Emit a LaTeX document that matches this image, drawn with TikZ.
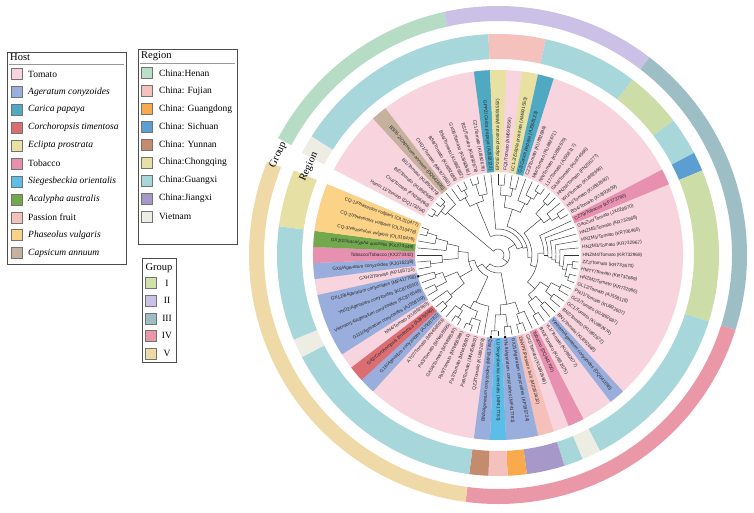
\documentclass[tikz,border=0pt]{standalone}
\usepackage{fontspec}
\setmainfont{Liberation Serif}
\setsansfont{Liberation Sans}

% host colours
\definecolor{tomato}{HTML}{F7D4DE}
\definecolor{ageratum}{HTML}{9AAEDD}
\definecolor{carica}{HTML}{4FA9C3}
\definecolor{corchoropsis}{HTML}{DB6E73}
\definecolor{eclipta}{HTML}{E8E1A2}
\definecolor{tobacco}{HTML}{E890B0}
\definecolor{siegesbeckia}{HTML}{5CBEE8}
\definecolor{acalypha}{HTML}{72A94F}
\definecolor{passion}{HTML}{F5C0BA}
\definecolor{phaseolus}{HTML}{FCD386}
\definecolor{capsicum}{HTML}{C6B09E}
% region colours
\definecolor{henan}{HTML}{BADFC7}
\definecolor{fujian}{HTML}{F5C1BC}
\definecolor{guangdong}{HTML}{F8AA4D}
\definecolor{sichuan}{HTML}{5B9ED2}
\definecolor{yunnan}{HTML}{C58B6E}
\definecolor{chongqing}{HTML}{E7E0A5}
\definecolor{guangxi}{HTML}{A8D7DB}
\definecolor{jiangxi}{HTML}{A699CA}
\definecolor{vietnam}{HTML}{EDEDE3}
\definecolor{regiongreen}{HTML}{CDDDA7}
% group colours
\definecolor{grpone}{HTML}{D0E1AA}
\definecolor{grptwo}{HTML}{CBC1E7}
\definecolor{grpthree}{HTML}{9DBEC4}
\definecolor{grpfour}{HTML}{EA98A8}
\definecolor{grpfive}{HTML}{EFD9A7}
\definecolor{grpmint}{HTML}{B7DCC5}

% tree pieces: leaves i..j, radii in pt
\newcommand{\tstem}[4]{\draw[branch] ({leafang(#1,#2)}:#3) -- ({leafang(#1,#2)}:#4);}
\newcommand{\tarc}[5]{\draw[branch] ({leafang(#2,#3)}:#1) arc[start angle={leafang(#2,#3)}, end angle={leafang(#4,#5)}, radius=#1];}
\newcommand{\tcherry}[2]{\tarc{#2}{#1}{#1}{#1+1}{#1+1}\tstem{#1}{#1}{#2}{81}\tstem{#1+1}{#1+1}{#2}{81}}
\newcommand{\sectorfill}[5]{\fill[#5] ({#1}:#3) arc[start angle={#1}, end angle={#2}, radius=#3] -- ({#2}:#4) arc[start angle={#2}, end angle={#1}, radius=#4] -- cycle;}

\begin{document}
\begin{tikzpicture}[x=1pt,y=1pt,
    declare function={leafang(\a,\b)=155-2.5*(\a+\b);},
    branch/.style={draw=black!80, line width=0.45pt},
    leaflab/.style={font=\sffamily\fontsize{4.7}{5}\selectfont, inner sep=0pt, text=black!85},
    tipmark/.style={fill=black, inner sep=0pt, minimum size=2pt},
    swatch/.style={draw=black!55, line width=0.4pt, minimum size=11pt, inner sep=0pt},
    legtext/.style={font=\fontsize{9.5}{11}\selectfont, inner sep=0pt, anchor=west},
    legtitle/.style={font=\fontsize{10.5}{12}\selectfont, inner sep=0pt},
    legframe/.style={draw=black!70, line width=0.7pt},
    ringlab/.style={font=\fontsize{10.5}{12}\selectfont, inner sep=0pt}]

\useasboundingbox (0,0) rectangle (754,-513);
\fill[white] (0,0) rectangle (754,-513);

% ---- legends
\draw[legframe] (7,-52) rectangle (126,-264);
\node[legtitle, anchor=west] (hosttitle) at (10,-57.5) {Host};
\draw[black!40] (9,-64) -- (124,-64);
\foreach \c/\t [count=\i from 0] in {tomato/Tomato, ageratum/\textit{Ageratum conyzoides},
    carica/\textit{Carica papaya}, corchoropsis/\textit{Corchoropsis timentosa},
    eclipta/\textit{Eclipta prostrata}, tobacco/Tobacco, siegesbeckia/\textit{Siegesbeckia orientalis},
    acalypha/\textit{Acalypha australis}, passion/Passion fruit, phaseolus/\textit{Phaseolus vulgaris},
    capsicum/\textit{Capsicum annuum}}{
  \node[swatch, fill=\c] (hs\i) at (16.5,{-74-17.9*\i}) {};
  \node[legtext] (ht\i) at (28,{-74-17.9*\i}) {\t};
}

\draw[legframe] (138,-49) rectangle (237,-244);
\node[legtitle, anchor=west] (regtitle) at (141,-56) {Region};
\draw[black!40] (140,-63) -- (235,-63);
\foreach \c/\t [count=\i from 0] in {henan/China:Henan, fujian/China: Fujian, guangdong/China: Guangdong,
    sichuan/China: Sichuan, yunnan/China: Yunnan, chongqing/China:Chongqing,
    guangxi/China:Guangxi, jiangxi/China:Jiangxi, vietnam/Vietnam}{
  \node[swatch, fill=\c] (rs\i) at (147,{-73-17.9*\i}) {};
  \node[legtext] (rt\i) at (159,{-73-17.9*\i}) {\t};
}

\draw[legframe] (142,-258) rectangle (176,-362);
\node[legtitle] (grptitle) at (159,-268) {Group};
\foreach \c/\t [count=\i from 0] in {grpone/I, grptwo/II, grpthree/III, grpfour/IV, grpfive/V}{
  \node[swatch, fill=\c] (gs\i) at (150.5,{-283-17.6*\i}) {};
  \node[legtext, anchor=center] (gt\i) at (167,{-283-17.6*\i}) {\t};
}

\begin{scope}[shift={(498,-255)}]
% ---- group ring
\sectorfill{152}{102.5}{234}{249}{grpmint}
\sectorfill{102.5}{52.5}{234}{249}{grptwo}
\sectorfill{52.5}{-17.5}{234}{249}{grpthree}
\sectorfill{-17.5}{-97.5}{234}{249}{grpfour}
\sectorfill{-97.5}{-202}{234}{249}{grpfive}
\node[ringlab, rotate=65] (grouplab) at (155.5:241.5) {Group};

% ---- region ring
\foreach \a/\b/\c in {152.5/147.5/vietnam, 147.5/92.5/guangxi, 92.5/77.5/fujian,
    77.5/52.5/guangxi, 52.5/37.5/regiongreen, 37.5/27.5/guangxi, 27.5/22.5/sichuan,
    22.5/-17.5/regiongreen, -17.5/-62.5/guangxi, -62.5/-67.5/vietnam, -67.5/-72.5/guangxi,
    -72.5/-82.5/jiangxi, -82.5/-87.5/guangdong, -87.5/-92.5/fujian, -92.5/-97.5/yunnan,
    -97.5/-152.5/guangxi, -152.5/-157.5/vietnam, -157.5/-187.5/guangxi, -187.5/-202.5/chongqing}{
  \sectorfill{\a}{\b}{196}{221}{\c}
}
\node[ringlab, rotate=65] (regionlab) at (155:208.5) {Region};

% ---- host wedges
\sectorfill{152.5}{-202.5}{83}{185}{tomato}
\foreach \i/\j/\c in {5/5/capsicum, 12/12/carica, 13/13/eclipta, 15/15/eclipta, 16/16/carica,
    26/26/tobacco, 41/41/ageratum, 44/44/tobacco, 46/46/passion, 47/48/ageratum,
    49/49/siegesbeckia, 50/50/ageratum, 58/58/ageratum, 59/59/corchoropsis, 61/64/ageratum,
    66/66/ageratum, 67/67/tobacco, 68/68/acalypha, 69/71/phaseolus}{
  \sectorfill{157.5-5*\i}{152.5-5*\j}{83}{185}{\c}
}

% ---- tree
\tarc{6}{1}{5}{6}{71} \tstem{1}{5}{6}{66} \tstem{6}{71}{6}{12}
\tarc{66}{1}{4}{5}{5} \tstem{1}{4}{66}{72} \tstem{5}{5}{66}{81}
\tarc{72}{1}{2}{3}{4} \tstem{1}{2}{72}{76} \tstem{3}{4}{72}{75}
\tcherry{1}{76} \tcherry{3}{75}
\tarc{12}{6}{43}{44}{71} \tstem{6}{43}{12}{20} \tstem{44}{71}{12}{18}
\tarc{20}{6}{11}{12}{43} \tstem{6}{11}{20}{56} \tstem{12}{43}{20}{26}
\tarc{56}{6}{8}{9}{11} \tstem{6}{8}{56}{66} \tstem{9}{11}{56}{62}
\tarc{66}{6}{6}{7}{8} \tstem{6}{6}{66}{81} \tstem{7}{8}{66}{73} \tcherry{7}{73}
\tarc{62}{9}{10}{11}{11} \tstem{9}{10}{62}{74} \tstem{11}{11}{62}{81} \tcherry{9}{74}
\tarc{26}{12}{12}{13}{43} \tstem{12}{12}{26}{81} \tstem{13}{43}{26}{30}
\tarc{30}{13}{20}{21}{43} \tstem{13}{20}{30}{48} \tstem{21}{43}{30}{34}
\tarc{48}{13}{16}{17}{20} \tstem{13}{16}{48}{60} \tstem{17}{20}{48}{58}
\tarc{60}{13}{14}{15}{16} \tstem{13}{14}{60}{70} \tstem{15}{16}{60}{68} \tcherry{13}{70} \tcherry{15}{68}
\tarc{58}{17}{17}{18}{20} \tstem{17}{17}{58}{81} \tstem{18}{20}{58}{66}
\tarc{66}{18}{18}{19}{20} \tstem{18}{18}{66}{81} \tstem{19}{20}{66}{74} \tcherry{19}{74}
\tarc{34}{21}{25}{26}{43} \tstem{21}{25}{34}{56} \tstem{26}{43}{34}{40}
\tarc{56}{21}{22}{23}{25} \tstem{21}{22}{56}{70} \tstem{23}{25}{56}{64} \tcherry{21}{70}
\tarc{64}{23}{23}{24}{25} \tstem{23}{23}{64}{81} \tstem{24}{25}{64}{72} \tcherry{24}{72}
\tarc{40}{26}{35}{36}{43} \tstem{26}{35}{40}{46} \tstem{36}{43}{40}{50}
\foreach \k in {26,...,31}{
  \pgfmathtruncatemacro\rr{46+4*(\k-26)}
  \pgfmathtruncatemacro\rn{\rr+4}
  \pgfmathtruncatemacro\kn{\k+1}
  \tarc{\rr}{\k}{\k}{\kn}{35} \tstem{\k}{\k}{\rr}{81} \tstem{\kn}{35}{\rr}{\rn}
}
\tarc{70}{32}{33}{34}{35} \tstem{32}{33}{70}{75} \tstem{34}{35}{70}{74} \tcherry{32}{75} \tcherry{34}{74}
\tarc{50}{36}{39}{40}{43} \tstem{36}{39}{50}{60} \tstem{40}{43}{50}{56}
\tarc{60}{36}{37}{38}{39} \tstem{36}{37}{60}{70} \tstem{38}{39}{60}{68} \tcherry{36}{70} \tcherry{38}{68}
\tarc{56}{40}{41}{42}{43} \tstem{40}{41}{56}{66} \tstem{42}{43}{56}{70} \tcherry{40}{66} \tcherry{42}{70}
\tarc{18}{44}{50}{51}{71} \tstem{44}{50}{18}{50} \tstem{51}{71}{18}{24}
\tarc{50}{44}{46}{47}{50} \tstem{44}{46}{50}{62} \tstem{47}{50}{50}{60}
\tarc{62}{44}{44}{45}{46} \tstem{44}{44}{62}{81} \tstem{45}{46}{62}{72} \tcherry{45}{72}
\tarc{60}{47}{48}{49}{50} \tstem{47}{48}{60}{72} \tstem{49}{50}{60}{76} \tcherry{47}{72} \tcherry{49}{76}
\tarc{24}{51}{57}{58}{71} \tstem{51}{57}{24}{52} \tstem{58}{71}{24}{30}
\tarc{52}{51}{51}{52}{57} \tstem{51}{51}{52}{81} \tstem{52}{57}{52}{60}
\tarc{60}{52}{54}{55}{57} \tstem{52}{54}{60}{68} \tstem{55}{57}{60}{66}
\tarc{68}{52}{52}{53}{54} \tstem{52}{52}{68}{81} \tstem{53}{54}{68}{75} \tcherry{53}{75}
\tarc{66}{55}{56}{57}{57} \tstem{55}{56}{66}{74} \tstem{57}{57}{66}{81} \tcherry{55}{74}
\tarc{30}{58}{64}{65}{71} \tstem{58}{64}{30}{44} \tstem{65}{71}{30}{40}
\tarc{44}{58}{60}{61}{64} \tstem{58}{60}{44}{62} \tstem{61}{64}{44}{58}
\tarc{62}{58}{59}{60}{60} \tstem{58}{59}{62}{72} \tstem{60}{60}{62}{81} \tcherry{58}{72}
\tarc{58}{61}{62}{63}{64} \tstem{61}{62}{58}{70} \tstem{63}{64}{58}{66} \tcherry{61}{70} \tcherry{63}{66}
\tarc{40}{65}{67}{68}{71} \tstem{65}{67}{40}{56} \tstem{68}{71}{40}{52}
\tarc{56}{65}{66}{67}{67} \tstem{65}{66}{56}{68} \tstem{67}{67}{56}{81} \tcherry{65}{68}
\tarc{52}{68}{68}{69}{71} \tstem{68}{68}{52}{81} \tstem{69}{71}{52}{64}
\tarc{64}{69}{69}{70}{71} \tstem{69}{69}{64}{81} \tstem{70}{71}{64}{74} \tcherry{70}{74}

\foreach \k in {48,50,64}{
  \node[tipmark, rotate=155-5*\k] (m\k) at ({155-5*\k}:82.5) {};
}

% ---- leaf labels
\foreach \k/\txt in {1/{Hanoi 11/Tomato (DQ173254)}, 2/{Cn4/Tomato (FN256260)},
  3/{BI2/Tomato (KU892680)}, 4/{BI1/Tomato (KU892679)},
  5/{BS06-2/\textit{Capsicum annuum} (DQ641695)}, 6/{CHD1/Tomato (MK977650)},
  7/{BS8/Tomato (KU892683)}, 8/{BS6/Tomato (KU892682)}, 9/{GX06/Tomato (KU892681)},
  10/{BS1/Tomato (KU892678)}, 11/{CZ1/Tomato (KU892676)},
  12/{GPPZ/\textit{Carica papaya} (AJ558122)}, 13/{EP2/\textit{Eclipta prostrata} (AM691552)},
  14/{FQ1/Tomato (AM691554)}, 15/{LC1-2/\textit{Eclipta prostrata} (AM691553)},
  16/{GZ/\textit{Carica papaya} (AJ558123)}, 17/{CZ2/Tomato (KU892686)},
  18/{MM/Tomato (KU892671)}, 19/{NN/Tomato (KU892670)}, 20/{L17/Tomato (AJ558117)},
  21/{GXM/Tomato (KU874566)}, 22/{HNZM/Tomato (FN256277)}, 23/{WU/Tomato (KU892669)},
  24/{HN/Tomato (KU892660)}, 25/{BS4/Tomato (KU892659)}, 26/{CZ79/Tobacco (KF373760)},
  27/{GaoZuo/Tomato (JX028970)}, 28/{HNZM5/Tomato (KR732968)}, 29/{HNZM1/Tomato (KR706485)},
  30/{HNZM3/Tomato (KR732967)}, 31/{HNZM4/Tomato (KR732968)}, 32/{ZZ2/Tomato (KR732670)},
  33/{HMTY/Tomato (KR732669)}, 34/{HNZM2/Tomato (KR732966)}, 35/{GL12/Tomato (AJ558118)},
  36/{PRJ1/Tomato (KU892607)}, 37/{GC2/Tomato (KU892687)}, 38/{GC1/Tomato (KU892674)},
  39/{BN2/Tomato (KU892672)}, 40/{BN1/Tomato (KU892668)},
  41/{Vietnam/\textit{Ageratum conyzoides} (DQ641698)}, 42/{YL1/Tomato (KU892677)},
  43/{BN3/Tomato (KU892675)}, 44/{Tobacco (DQ641700)}, 45/{GX1/Tomato (KU892666)},
  46/{DNVPF/Passion fruit (MZ062432)}, 47/{GX21/\textit{Ageratum conyzoides} (KP195724)},
  48/{YN-9/\textit{Ageratum conyzoides} (MF417781)}, 49/{LL/\textit{Siegesbeckia orientalis} (MF417783)},
  50/{BN3/\textit{Ageratum conyzoides} (MF417782)}, 51/{QZ2/Tomato (KU892678)},
  52/{Pa9/Tomato (MN458603)}, 53/{Pa7/Tomato (MN458601)}, 54/{Pa5/Tomato (MN458599)},
  55/{GX04/Tomato (MN458597)}, 56/{Pa3/Tomato (MN458595)}, 57/{AY07/Tomato (MN458593)},
  58/{G16/\textit{Ageratum conyzoides} (AJ508782)}, 59/{G42/\textit{Corchoropsis timentosa} (AJ876549)},
  60/{NN4/Tomato (KU892665)}, 61/{G111/\textit{Ageratum conyzoides} (AJ558119)},
  62/{Vietnam14/\textit{Ageratum conyzoides} (KC876549)}, 63/{YN02/\textit{Ageratum conyzoides} (KC876550)},
  64/{GX129/\textit{Ageratum conyzoides} (MF417768)}, 65/{GXH2/Tomato (KP195723)},
  66/{GX8/\textit{Ageratum conyzoides} (KJ016238)}, 67/{Tobacco/Tobacco (KX273342)},
  68/{GX2015/\textit{Acalypha australis} (KX273349)}, 69/{CQ-3/\textit{Phaseolus vulgaris} (OL310476)},
  70/{CQ-2/\textit{Phaseolus vulgaris} (OL310478)}, 71/{CQ-1/\textit{Phaseolus vulgaris} (OL310477)}}{
  \pgfmathsetmacro\ang{155-5*\k}
  \pgfmathtruncatemacro\lefthalf{(\ang>90)||(\ang<-90)}
  \ifnum\lefthalf=1
    \node[leaflab, anchor=east, rotate=\ang+180] (l\k) at (\ang:84.5) {\txt};
  \else
    \node[leaflab, anchor=west, rotate=\ang] (l\k) at (\ang:84.5) {\txt};
  \fi
}
\end{scope}
\end{tikzpicture}
\end{document}
